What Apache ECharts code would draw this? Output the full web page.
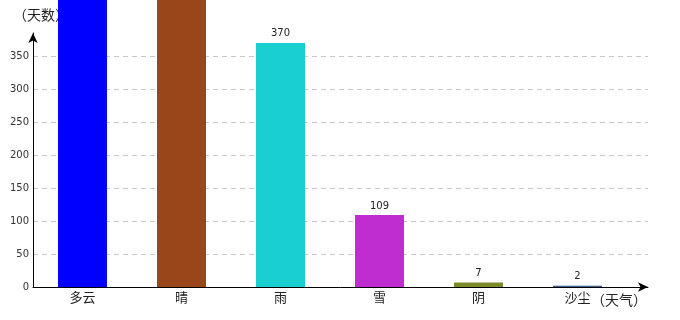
<!DOCTYPE html>
<html><head><meta charset="utf-8">
<script src="https://cdn.jsdelivr.net/npm/echarts@6/dist/echarts.min.js"></script>
<style>html,body{margin:0;padding:0;background:#fff}#c{width:680px;height:320px}</style>
</head><body><div id="c"></div>
<script>
var categories = ['多云', '晴', '雨', '雪', '阴', '沙尘'];
var days = [520, 490, 370, 109, 7, 2];
var barColors = ['#0000ff', '#98461a', '#19cfd0', '#bf2ccf', '#7d8a2a', '#3d5a8a'];
var yTicks = [0, 50, 100, 150, 200, 250, 300, 350];

var font = '"DejaVu Sans", sans-serif';
var cjk = '"Noto Sans CJK SC", sans-serif';
var yMax = 385;
var chart = echarts.init(document.getElementById('c'), null, {renderer: 'canvas'});
var splitColors = yTicks.map(function(){return '#c8c8c8';});
splitColors.push('rgba(0,0,0,0)');
chart.setOption({
  animation: false,
  grid: [
    {left: 33, right: 53, top: 33, bottom: 33},
    {left: 33, right: 32, top: 33, bottom: 33}
  ],
  xAxis: [
    {type: 'category', gridIndex: 0, data: categories,
     axisLine: {show: false}, axisTick: {show: false},
     axisLabel: {color: '#222', fontSize: 13, margin: 4, fontFamily: cjk}},
    {type: 'value', gridIndex: 1, min: 0, max: 1,
     axisLine: {show: true, symbol: ['none', 'arrow'], symbolSize: [7, 10], lineStyle: {color: '#000', width: 1}},
     axisTick: {show: false}, axisLabel: {show: false}, splitLine: {show: false},
     name: '（天气）', nameLocation: 'end', nameGap: -1,
     nameTextStyle: {color: '#222', fontSize: 14, fontFamily: cjk,
       align: 'right', verticalAlign: 'top', padding: [6, 0, 0, 0]}}
  ],
  yAxis: [
    {type: 'value', gridIndex: 0, min: 0, max: yMax, interval: 50,
     axisLine: {show: false}, axisTick: {show: false}, splitLine: {show: false},
     axisLabel: {color: '#333', fontSize: 10, fontFamily: font, margin: 4, showMaxLabel: false,
       formatter: function(v){ return yTicks.indexOf(v) >= 0 ? String(v) : ''; }}},
    {type: 'value', gridIndex: 1, min: 0, max: yMax, interval: 50,
     axisLine: {show: true, symbol: ['none', 'arrow'], symbolSize: [7, 10], lineStyle: {color: '#000', width: 1}},
     axisTick: {show: false}, axisLabel: {show: false},
     splitLine: {show: true, lineStyle: {type: [5, 4], color: splitColors, width: 1}},
     name: '（天数）', nameLocation: 'end', nameGap: 11,
     nameTextStyle: {color: '#222', fontSize: 14, fontFamily: cjk, align: 'center', padding: [0, 0, 0, 16]}}
  ],
  series: [{
    type: 'bar', xAxisIndex: 0, yAxisIndex: 0, clip: false, barWidth: 49,
    data: days.map(function(v, i){ return {value: v, itemStyle: {color: barColors[i]}}; }),
    label: {show: true, position: 'top', color: '#222', fontSize: 10, fontFamily: font, distance: 4}
  }]
});
</script></body></html>
